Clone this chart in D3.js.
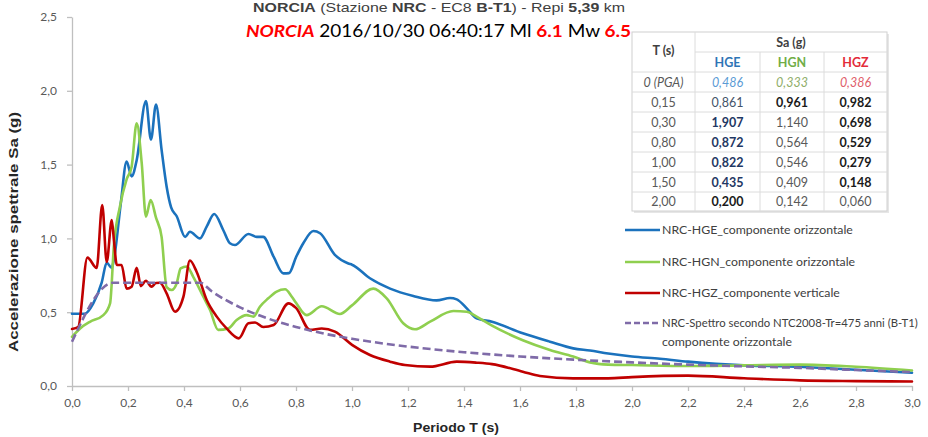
<!DOCTYPE html>
<html><head><meta charset="utf-8">
<script src="https://cdn.jsdelivr.net/npm/d3@7"></script>
<style>
html,body{margin:0;padding:0;background:#fff;}
svg{display:block;}
</style></head>
<body><svg id="chart" width="928" height="437"></svg>
<script>
// ---------- DATA ----------
const xTicks = [0,0.2,0.4,0.6,0.8,1.0,1.2,1.4,1.6,1.8,2.0,2.2,2.4,2.6,2.8,3.0];
const yTicks = [0,0.5,1.0,1.5,2.0,2.5];

const hgeT  = [0,0.046,0.076,0.106,0.124,0.142,0.15,0.175,0.195,0.213,0.231,0.264,0.282,0.30,0.32,0.338,0.354,0.374,0.404,0.421,0.457,0.481,0.508,0.54,0.564,0.582,0.63,0.66,0.683,0.72,0.755,0.775,0.80,0.826,0.862,0.886,0.939,0.987,1.0,1.064,1.136,1.219,1.302,1.35,1.374,1.41,1.445,1.50,1.61,1.707,1.79,1.85,1.915,2.0,2.1,2.2,2.3,2.4,2.5,2.6,2.7,2.8,2.9,3.0];
const hgeSa = [0.49,0.49,0.56,0.70,0.835,0.80,0.861,1.25,1.52,1.42,1.53,1.93,1.67,1.907,1.60,1.35,1.21,1.15,1.01,1.045,1.00,1.08,1.165,1.057,0.967,0.955,1.03,1.01,1.01,0.876,0.763,0.765,0.872,0.967,1.05,1.035,0.888,0.83,0.822,0.73,0.66,0.61,0.58,0.596,0.587,0.526,0.458,0.435,0.357,0.30,0.255,0.24,0.22,0.20,0.185,0.165,0.15,0.14,0.135,0.13,0.12,0.11,0.10,0.09];

const hgnT  = [0,0.029,0.064,0.112,0.136,0.15,0.171,0.195,0.213,0.231,0.249,0.264,0.281,0.30,0.32,0.338,0.356,0.374,0.388,0.41,0.433,0.469,0.493,0.522,0.558,0.588,0.624,0.648,0.671,0.701,0.731,0.761,0.785,0.80,0.838,0.892,0.957,1.0,1.076,1.124,1.183,1.225,1.279,1.362,1.41,1.445,1.50,1.61,1.707,1.79,1.85,1.915,2.0,2.2,2.4,2.6,2.8,3.0];
const hgnSa = [0.333,0.39,0.435,0.48,0.56,0.961,1.215,1.40,1.486,1.78,1.51,1.147,1.26,1.14,1.01,0.67,0.65,0.696,0.797,0.81,0.74,0.605,0.515,0.38,0.39,0.447,0.48,0.47,0.537,0.594,0.64,0.655,0.605,0.564,0.48,0.54,0.488,0.546,0.66,0.594,0.425,0.384,0.436,0.508,0.503,0.47,0.409,0.31,0.244,0.20,0.16,0.145,0.142,0.135,0.14,0.145,0.13,0.105];

const hgzT  = [0,0.022,0.055,0.088,0.108,0.124,0.142,0.15,0.16,0.177,0.195,0.213,0.231,0.246,0.264,0.284,0.30,0.314,0.338,0.368,0.398,0.421,0.445,0.481,0.517,0.552,0.596,0.63,0.654,0.683,0.72,0.773,0.80,0.85,0.892,0.939,1.0,1.064,1.136,1.189,1.279,1.374,1.445,1.50,1.61,1.671,1.79,1.915,2.0,2.2,2.4,2.6,2.8,3.0];
const hgzSa = [0.386,0.40,0.87,0.80,1.226,0.84,1.125,0.982,0.82,0.82,0.66,0.673,0.80,0.677,0.713,0.673,0.698,0.70,0.628,0.503,0.605,0.85,0.774,0.583,0.47,0.39,0.323,0.425,0.43,0.40,0.413,0.56,0.529,0.38,0.39,0.368,0.279,0.21,0.165,0.142,0.131,0.165,0.158,0.148,0.097,0.068,0.052,0.052,0.060,0.07,0.052,0.038,0.033,0.03];

const ntcT  = [0,0.148,0.457,0.5,0.6,0.7,0.8,0.9,1.0,1.2,1.4,1.6,1.8,2.0,2.2,2.4,2.6,2.8,3.0];
const ntcSa = [0.30,0.70,0.70,0.64,0.533,0.457,0.40,0.355,0.32,0.267,0.229,0.20,0.178,0.16,0.145,0.133,0.123,0.108,0.094];

const seriesNames = ["NRC-HGE_componente orizzontale","NRC-HGN_componente orizzontale","NRC-HGZ_componente verticale","NRC-Spettro secondo NTC2008-Tr=475 anni (B-T1)"];
const seriesNames2 = ["","","","componente orizzontale"];

const tablePeriods = ["0 (PGA)","0,15","0,30","0,80","1,00","1,50","2,00"];
const tableHGE = [0.486,0.861,1.907,0.872,0.822,0.435,0.200];
const tableHGN = [0.333,0.961,1.140,0.564,0.546,0.409,0.142];
const tableHGZ = [0.386,0.982,0.698,0.529,0.279,0.148,0.060];
const tableCols = ["HGE","HGN","HGZ"];

// ---------- STYLES ----------
const seriesColors = ["#1b72bd","#8fcf4f","#c00000","#7f6ba8"];
const headColors = ["#2e75b6","#70ad47","#e32b3a"];
const pgaColors = ["#5b9bd5","#8fae6a","#e0606a"];
// per-cell style: 0 normal grey, 1 bold navy, 2 bold black, 3 normal navy-grey
const styleHGE = [0,3,1,1,1,1,2];
const styleHGN = [0,2,0,0,0,0,0];
const styleHGZ = [0,2,2,2,2,2,0];

// ---------- CHART ----------
const svg = d3.select("#chart");
const x = d3.scaleLinear().domain([0,3]).range([72,912]);
const y = d3.scaleLinear().domain([0,2.5]).range([386,17]);
const f1 = v => d3.format(".1f")(v).replace(".",",");
const f3 = v => d3.format(".3f")(v).replace(".",",");
const axisCol = "#bfbfbf", tickCol = "#595959";

function fit(sel, w){ sel.attr("textLength", w).attr("lengthAdjust","spacingAndGlyphs"); }

// axes
const gx = svg.append("g").attr("transform","translate(0,386)")
  .call(d3.axisBottom(x).tickValues(xTicks).tickSize(5).tickSizeOuter(0).tickPadding(7).tickFormat(f1));
const gy = svg.append("g").attr("transform","translate(72,0)")
  .call(d3.axisLeft(y).tickValues(yTicks).tickSize(5).tickSizeOuter(0).tickPadding(10).tickFormat(f1));
[gx,gy].forEach(g=>{
  g.select(".domain").attr("stroke",axisCol).attr("stroke-width",1.3);
  g.selectAll(".tick line").attr("stroke",axisCol).attr("stroke-width",1.3);
  g.selectAll(".tick text").attr("fill",tickCol).style("font-family","Lato").style("font-size","12px");
});

// series
const line = d3.line().x(d=>x(d[0])).y(d=>y(d[1])).curve(d3.curveMonotoneX);
const seriesData = [d3.zip(hgeT,hgeSa), d3.zip(hgnT,hgnSa), d3.zip(hgzT,hgzSa), d3.zip(ntcT,ntcSa)];
seriesData.forEach((d,i)=>{
  svg.append("path").datum(d).attr("d",line).attr("fill","none")
    .attr("stroke",seriesColors[i]).attr("stroke-width",2.6)
    .attr("stroke-linejoin","round").attr("stroke-linecap", i===3?"butt":"round")
    .attr("stroke-dasharray", i===3 ? "8,4" : null);
});

// axis titles
svg.append("text").attr("x",456).attr("y",432).attr("text-anchor","middle")
  .style("font-family","Liberation Sans, Arial").style("font-weight","bold").style("font-size","13px")
  .attr("fill","#262626").text("Periodo T (s)").call(fit,86);
svg.append("text").attr("transform","translate(18,232) rotate(-90)").attr("text-anchor","middle")
  .style("font-family","Liberation Sans, Arial").style("font-weight","bold").style("font-size","12px")
  .attr("fill","#262626").text("Accelerazione spettrale Sa (g)").call(fit,240);

// titles
const t1 = svg.append("text").attr("x",253).attr("y",12)
  .style("font-family","Liberation Sans, Arial").style("font-size","13px").attr("fill","#404040");
[["NORCIA",1],[" (Stazione ",0],["NRC",1],[" - EC8 ",0],["B-T1",1],[") - Repi ",0],["5,39",1],[" km",0]]
  .forEach(([s,b])=>t1.append("tspan").style("font-weight",b?"bold":"normal").text(s));
fit(t1,372);
const t2 = svg.append("text").attr("x",246).attr("y",37)
  .style("font-family","Lato").style("font-size","17px").attr("fill","#000");
[["NORCIA","#ff0000","bold","italic"],[" 2016/10/30 06:40:17 Ml ","#000","normal","normal"],["6.1","#ff0000","bold","normal"],[" Mw ","#000","normal","normal"],["6.5","#ff0000","bold","normal"]]
  .forEach(([s,c,w,st])=>t2.append("tspan").attr("fill",c).style("font-weight",w).style("font-style",st).text(s));
fit(t2,385);

// legend
const legY = [230,262,293,323];
const lg = svg.append("g");
seriesNames.forEach((n,i)=>{
  lg.append("line").attr("x1",625).attr("x2",660).attr("y1",legY[i]).attr("y2",legY[i])
    .attr("stroke",seriesColors[i]).attr("stroke-width",2.6).attr("stroke-dasharray", i===3?"6,3":null);
  lg.append("text").attr("x",662).attr("y",legY[i]+4).attr("class","leg").text(n);
  if(seriesNames2[i]) lg.append("text").attr("x",662).attr("y",legY[i]+23).attr("class","leg").text(seriesNames2[i]);
});
lg.selectAll(".leg").style("font-family","Lato").style("font-size","12px").attr("fill","#404040");
const l0 = lg.select(".leg").node().getComputedTextLength();
const legFs = 12*191/l0;
lg.selectAll(".leg").style("font-size",legFs+"px");
// keep the long legend entry inside the page by shrinking its font
lg.selectAll(".leg").each(function(){
  const len = this.getComputedTextLength();
  const room = 918 - 662;
  if (len > room) d3.select(this).style("font-size",(legFs*room/len)+"px");
});

// table
const colX = [632,695,760,824,887];
const rowY = [32,52,72,92,112,132,152,172,192,211];
const tb = svg.append("g");
tb.append("rect").attr("x",colX[0]+2).attr("y",rowY[0]+2).attr("width",colX[4]-colX[0]).attr("height",rowY[9]-rowY[0]).attr("fill","#e6e6e6");
tb.append("rect").attr("x",colX[0]).attr("y",rowY[0]).attr("width",colX[4]-colX[0]).attr("height",rowY[9]-rowY[0]).attr("fill","#fff").attr("stroke","#d0d0d0");
const gridC = "#dcdcdc";
rowY.slice(1,9).forEach((ry,i)=>{
  tb.append("line").attr("x1", i===0?colX[1]:colX[0]).attr("x2",colX[4]).attr("y1",ry).attr("y2",ry).attr("stroke",gridC);
});
colX.slice(1,4).forEach((cx,i)=>{
  tb.append("line").attr("x1",cx).attr("x2",cx).attr("y1", i===0?rowY[0]:rowY[1]).attr("y2",rowY[9]).attr("stroke",gridC);
});
const cx = i => (colX[i]+colX[i+1])/2;
const cy = j => (rowY[j]+rowY[j+1])/2;
function cell(xp,yp,txt,col,bold,ital){
  tb.append("text").attr("x",xp).attr("y",yp).attr("dy","0.36em").attr("text-anchor","middle")
    .style("font-family","Lato").style("font-size","12.5px").style("font-weight",bold?"bold":"normal")
    .style("font-style",ital?"italic":"normal").attr("fill",col).text(txt);
}
cell(cx(0),(rowY[0]+rowY[2])/2-2,"T (s)","#404040",true,false);
cell((colX[1]+colX[4])/2,cy(0),"Sa (g)","#404040",true,false);
tableCols.forEach((c,i)=>cell(cx(i+1),cy(1),c,headColors[i],true,false));
const styleCol = [["#595959",false],["#1f3864",true],["#1a1a1a",true],["#44546a",false]];
const tabVals = [tableHGE,tableHGN,tableHGZ];
const tabStyles = [styleHGE,styleHGN,styleHGZ];
tablePeriods.forEach((p,j)=>{
  cell(cx(0),cy(j+2),p,"#595959",false,j===0);
  tabVals.forEach((vals,i)=>{
    if(j===0){ cell(cx(i+1),cy(2),f3(vals[0]),pgaColors[i],false,true); }
    else { const s = styleCol[tabStyles[i][j]]; cell(cx(i+1),cy(j+2),f3(vals[j]),s[0],s[1],false); }
  });
});
</script>
</body></html>
